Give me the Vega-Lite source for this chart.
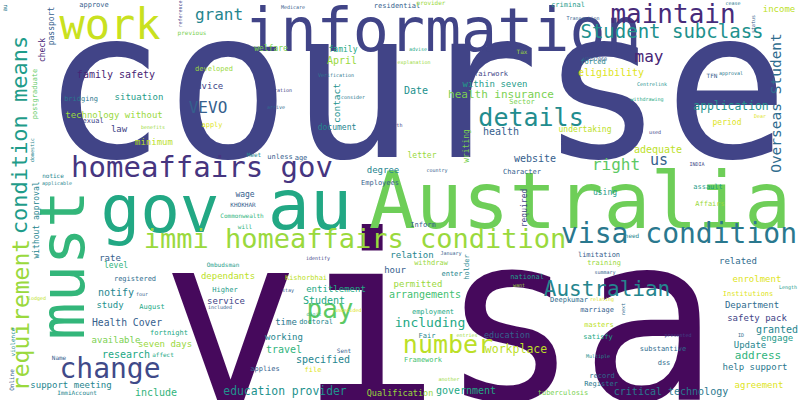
{
  "$schema": "https://vega.github.io/schema/vega-lite/v6.json",
  "autosize": {"type": "none"},
  "padding": 0,
  "width": 800,
  "height": 400,
  "background": "white",
  "config": {"view": {"stroke": null}},
  "data": {
    "values": [
      {"w": "course", "x": 415, "y": 95, "s": 207, "a": 0, "c": 0.2},
      {"w": "visa", "x": 440, "y": 330, "s": 232, "a": 0, "c": 0.02},
      {"w": "information", "x": 443, "y": 33, "s": 60, "a": 0, "c": 0.2},
      {"w": "work", "x": 110, "y": 26, "s": 42, "a": 0, "c": 0.92},
      {"w": "gov", "x": 160, "y": 212, "s": 66, "a": 0, "c": 0.6},
      {"w": "au", "x": 310, "y": 208, "s": 70, "a": 0, "c": 0.6},
      {"w": "Australia", "x": 580, "y": 205, "s": 78, "a": 0, "c": 0.78},
      {"w": "must", "x": 65, "y": 265, "s": 62, "a": -90, "c": 0.66},
      {"w": "homeaffairs gov", "x": 202, "y": 168, "s": 29, "a": 0, "c": 0.15},
      {"w": "immi homeaffairs condition", "x": 355, "y": 240, "s": 27, "a": 0, "c": 0.85},
      {"w": "condition means", "x": 20, "y": 135, "s": 22, "a": -90, "c": 0.55},
      {"w": "requirement", "x": 22, "y": 315, "s": 23, "a": -90, "c": 0.85},
      {"w": "grant", "x": 219, "y": 15, "s": 16, "a": 0, "c": 0.45},
      {"w": "maintain", "x": 673, "y": 15, "s": 26, "a": 0, "c": 0.12},
      {"w": "Student subclass", "x": 672, "y": 32, "s": 19, "a": 0, "c": 0.5},
      {"w": "details", "x": 531, "y": 118, "s": 25, "a": 0, "c": 0.48},
      {"w": "may", "x": 649, "y": 57, "s": 16, "a": 0, "c": 0.1},
      {"w": "Overseas Student", "x": 777, "y": 103, "s": 14.5, "a": -90, "c": 0.35},
      {"w": "application", "x": 731, "y": 107, "s": 11.4, "a": 0, "c": 0.5},
      {"w": "right", "x": 616, "y": 165, "s": 16, "a": 0, "c": 0.75},
      {"w": "us", "x": 659, "y": 160, "s": 15, "a": 0, "c": 0.3},
      {"w": "visa condition", "x": 679, "y": 235, "s": 28, "a": 0, "c": 0.4},
      {"w": "pay", "x": 330, "y": 310, "s": 26, "a": 0, "c": 0.75},
      {"w": "Australian", "x": 607, "y": 290, "s": 21, "a": 0, "c": 0.45},
      {"w": "number", "x": 448, "y": 345, "s": 25, "a": 0, "c": 0.9},
      {"w": "including", "x": 430, "y": 323, "s": 13, "a": 0, "c": 0.6},
      {"w": "workplace", "x": 516, "y": 350, "s": 11.5, "a": 0, "c": 0.9},
      {"w": "education", "x": 507, "y": 335, "s": 8.5, "a": 0, "c": 0.3},
      {"w": "change", "x": 110, "y": 370, "s": 28, "a": 0, "c": 0.22},
      {"w": "education provider", "x": 285, "y": 392, "s": 11.4, "a": 0, "c": 0.5},
      {"w": "critical technology", "x": 671, "y": 392, "s": 10, "a": 0, "c": 0.4},
      {"w": "Health Cover", "x": 127, "y": 323, "s": 9.7, "a": 0, "c": 0.3},
      {"w": "family safety", "x": 116, "y": 75, "s": 10, "a": 0, "c": 0.1},
      {"w": "VEVO", "x": 208, "y": 108, "s": 16, "a": 0, "c": 0.3},
      {"w": "contact", "x": 337, "y": 103, "s": 9.5, "a": -90, "c": 0.5},
      {"w": "approve", "x": 94, "y": 5, "s": 7, "a": 0, "c": 0.3},
      {"w": "passport", "x": 52, "y": 26, "s": 8, "a": -90, "c": 0.3},
      {"w": "check", "x": 43, "y": 50, "s": 8, "a": -90, "c": 0.1},
      {"w": "reference", "x": 180, "y": 14, "s": 5, "a": -90, "c": 0.2},
      {"w": "previous", "x": 192, "y": 33, "s": 6, "a": 0, "c": 0.8},
      {"w": "Medicare", "x": 293, "y": 7, "s": 5, "a": 0, "c": 0.3},
      {"w": "residential", "x": 397, "y": 6, "s": 7, "a": 0, "c": 0.3},
      {"w": "welfare", "x": 271, "y": 49, "s": 8, "a": 0, "c": 0.8},
      {"w": "family", "x": 343, "y": 50, "s": 8, "a": 0, "c": 0.6},
      {"w": "April", "x": 342, "y": 61, "s": 10, "a": 0, "c": 0.85},
      {"w": "developed", "x": 214, "y": 69, "s": 7, "a": 0, "c": 0.85},
      {"w": "advice", "x": 207, "y": 86, "s": 9, "a": 0, "c": 0.2},
      {"w": "bridging", "x": 81, "y": 99, "s": 7, "a": 0, "c": 0.4},
      {"w": "situation", "x": 139, "y": 97, "s": 9, "a": 0, "c": 0.55},
      {"w": "postgraduate", "x": 35, "y": 94, "s": 7, "a": -90, "c": 0.75},
      {"w": "technology without", "x": 114, "y": 115, "s": 9, "a": 0, "c": 0.85},
      {"w": "sexual", "x": 91, "y": 121, "s": 7, "a": 0, "c": 0.2},
      {"w": "law", "x": 119, "y": 129, "s": 9, "a": 0, "c": 0.2},
      {"w": "apply", "x": 212, "y": 125, "s": 7, "a": 0, "c": 0.95},
      {"w": "benefits", "x": 153, "y": 127, "s": 5, "a": 0, "c": 0.85},
      {"w": "minimum", "x": 154, "y": 142, "s": 9, "a": 0, "c": 0.9},
      {"w": "document", "x": 337, "y": 128, "s": 8, "a": 0, "c": 0.45},
      {"w": "domestic", "x": 32, "y": 150, "s": 5, "a": -90, "c": 0.45},
      {"w": "Meet", "x": 254, "y": 155, "s": 6, "a": 0, "c": 0.45},
      {"w": "unless", "x": 280, "y": 157, "s": 7, "a": 0, "c": 0.3},
      {"w": "age", "x": 301, "y": 158, "s": 7, "a": 0, "c": 0.3},
      {"w": "degree", "x": 383, "y": 170, "s": 9, "a": 0, "c": 0.45},
      {"w": "notice", "x": 53, "y": 176, "s": 6, "a": 0, "c": 0.45},
      {"w": "applicable", "x": 57, "y": 183, "s": 5, "a": 0, "c": 0.45},
      {"w": "without approval", "x": 37, "y": 220, "s": 8, "a": -90, "c": 0.45},
      {"w": "Employees", "x": 380, "y": 183, "s": 7, "a": 0, "c": 0.3},
      {"w": "wage", "x": 245, "y": 195, "s": 8, "a": 0, "c": 0.3},
      {"w": "KHOKHAR", "x": 243, "y": 205, "s": 6, "a": 0, "c": 0.3},
      {"w": "Commonwealth", "x": 242, "y": 216, "s": 6, "a": 0, "c": 0.65},
      {"w": "will", "x": 245, "y": 227, "s": 6, "a": 0, "c": 0.65},
      {"w": "Verification", "x": 336, "y": 75, "s": 5, "a": 0, "c": 0.4},
      {"w": "duration", "x": 280, "y": 90, "s": 5, "a": 0, "c": 0.2},
      {"w": "consider", "x": 353, "y": 97, "s": 5, "a": 0, "c": 0.4},
      {"w": "arrive", "x": 276, "y": 107, "s": 5, "a": 0, "c": 0.35},
      {"w": "birth", "x": 395, "y": 125, "s": 5, "a": 0, "c": 0.2},
      {"w": "au", "x": 5, "y": 8, "s": 6, "a": -90, "c": 0.4},
      {"w": "provider", "x": 431, "y": 3, "s": 6, "a": 0, "c": 0.85},
      {"w": "criminal", "x": 568, "y": 5, "s": 7, "a": 0, "c": 0.55},
      {"w": "cease", "x": 733, "y": 3, "s": 5, "a": 0, "c": 0.4},
      {"w": "income", "x": 779, "y": 9, "s": 9, "a": 0, "c": 0.9},
      {"w": "Transaction", "x": 583, "y": 18, "s": 5, "a": 0, "c": 0.3},
      {"w": "status", "x": 753, "y": 24, "s": 5, "a": -90, "c": 0.3},
      {"w": "advise", "x": 418, "y": 49, "s": 5, "a": 0, "c": 0.6},
      {"w": "explanation", "x": 414, "y": 62, "s": 5, "a": 0, "c": 0.85},
      {"w": "Tax", "x": 522, "y": 52, "s": 6, "a": 0, "c": 0.85},
      {"w": "V3297060", "x": 595, "y": 59, "s": 5, "a": 0, "c": 0.3},
      {"w": "forced", "x": 593, "y": 62, "s": 7, "a": 0, "c": 0.45},
      {"w": "eligibility", "x": 611, "y": 73, "s": 10, "a": 0, "c": 0.95},
      {"w": "fairwork", "x": 491, "y": 74, "s": 7, "a": 0, "c": 0.2},
      {"w": "within seven", "x": 495, "y": 84, "s": 9, "a": 0, "c": 0.55},
      {"w": "TFN", "x": 712, "y": 76, "s": 6, "a": 0, "c": 0.3},
      {"w": "approval", "x": 731, "y": 73, "s": 5, "a": 0, "c": 0.4},
      {"w": "Centrelink", "x": 652, "y": 84, "s": 5, "a": 0, "c": 0.5},
      {"w": "Date", "x": 416, "y": 91, "s": 10, "a": 0, "c": 0.5},
      {"w": "health insurance", "x": 501, "y": 95, "s": 11, "a": 0, "c": 0.8},
      {"w": "Sector", "x": 522, "y": 102, "s": 7, "a": 0, "c": 0.8},
      {"w": "withdrawing", "x": 647, "y": 99, "s": 5, "a": 0, "c": 0.6},
      {"w": "Dear", "x": 760, "y": 116, "s": 5, "a": 0, "c": 0.95},
      {"w": "period", "x": 727, "y": 123, "s": 8, "a": 0, "c": 0.95},
      {"w": "undertaking", "x": 585, "y": 130, "s": 8, "a": 0, "c": 0.9},
      {"w": "health", "x": 501, "y": 132, "s": 10, "a": 0, "c": 0.3},
      {"w": "writing", "x": 467, "y": 146, "s": 8, "a": -90, "c": 0.8},
      {"w": "used", "x": 655, "y": 132, "s": 5, "a": 0, "c": 0.2},
      {"w": "adequate", "x": 658, "y": 150, "s": 10, "a": 0, "c": 0.9},
      {"w": "website", "x": 535, "y": 159, "s": 10, "a": 0, "c": 0.3},
      {"w": "letter", "x": 422, "y": 156, "s": 8, "a": 0, "c": 0.85},
      {"w": "country", "x": 437, "y": 170, "s": 5, "a": 0, "c": 0.3},
      {"w": "Character", "x": 522, "y": 172, "s": 7, "a": 0, "c": 0.3},
      {"w": "INDIA", "x": 697, "y": 164, "s": 5, "a": 0, "c": 0.2},
      {"w": "assault", "x": 708, "y": 187, "s": 7, "a": 0, "c": 0.55},
      {"w": "required", "x": 525, "y": 208, "s": 8, "a": -90, "c": 0.2},
      {"w": "using", "x": 605, "y": 193, "s": 8, "a": 0, "c": 0.55},
      {"w": "Affairs", "x": 710, "y": 204, "s": 7, "a": 0, "c": 0.85},
      {"w": "Inform", "x": 423, "y": 225, "s": 7, "a": 0, "c": 0.3},
      {"w": "need", "x": 632, "y": 236, "s": 6, "a": 0, "c": 0.45},
      {"w": "rate", "x": 110, "y": 258, "s": 9, "a": 0, "c": 0.3},
      {"w": "level", "x": 116, "y": 266, "s": 8, "a": 0, "c": 0.65},
      {"w": "registered", "x": 135, "y": 279, "s": 7, "a": 0, "c": 0.35},
      {"w": "notify", "x": 116, "y": 293, "s": 10, "a": 0, "c": 0.45},
      {"w": "four", "x": 142, "y": 294, "s": 5, "a": 0, "c": 0.3},
      {"w": "lodged", "x": 37, "y": 298, "s": 5, "a": 0, "c": 0.9},
      {"w": "study", "x": 110, "y": 305, "s": 9, "a": 0, "c": 0.5},
      {"w": "August", "x": 152, "y": 307, "s": 7, "a": 0, "c": 0.6},
      {"w": "available", "x": 116, "y": 340, "s": 9, "a": 0, "c": 0.8},
      {"w": "fortnight", "x": 169, "y": 333, "s": 7, "a": 0, "c": 0.6},
      {"w": "seven days", "x": 165, "y": 344, "s": 9, "a": 0, "c": 0.85},
      {"w": "research", "x": 126, "y": 355, "s": 10, "a": 0, "c": 0.6},
      {"w": "affect", "x": 163, "y": 355, "s": 6, "a": 0, "c": 0.6},
      {"w": "Name", "x": 59, "y": 358, "s": 6, "a": 0, "c": 0.3},
      {"w": "support meeting", "x": 71, "y": 385, "s": 9, "a": 0, "c": 0.45},
      {"w": "ImmiAccount", "x": 77, "y": 393, "s": 6, "a": 0, "c": 0.45},
      {"w": "include", "x": 156, "y": 393, "s": 10, "a": 0, "c": 0.65},
      {"w": "violence", "x": 13, "y": 342, "s": 6, "a": -90, "c": 0.5},
      {"w": "Online", "x": 12, "y": 380, "s": 6, "a": -90, "c": 0.3},
      {"w": "Ombudsman", "x": 223, "y": 265, "s": 6, "a": 0, "c": 0.55},
      {"w": "dependants", "x": 228, "y": 276, "s": 9, "a": 0, "c": 0.9},
      {"w": "Higher", "x": 225, "y": 290, "s": 7, "a": 0, "c": 0.55},
      {"w": "service", "x": 226, "y": 301, "s": 9, "a": 0, "c": 0.2},
      {"w": "included", "x": 220, "y": 307, "s": 5, "a": 0, "c": 0.3},
      {"w": "Kishorbhai", "x": 306, "y": 278, "s": 7, "a": 0, "c": 0.9},
      {"w": "identify", "x": 318, "y": 258, "s": 5, "a": 0, "c": 0.2},
      {"w": "stay", "x": 288, "y": 290, "s": 5, "a": 0, "c": 0.3},
      {"w": "entitlement", "x": 336, "y": 289, "s": 9, "a": 0, "c": 0.6},
      {"w": "Student", "x": 324, "y": 301, "s": 10, "a": 0, "c": 0.6},
      {"w": "digit", "x": 314, "y": 314, "s": 5, "a": 0, "c": 0.65},
      {"w": "undecided", "x": 348, "y": 310, "s": 5, "a": 0, "c": 0.95},
      {"w": "time", "x": 286, "y": 322, "s": 9, "a": 0, "c": 0.4},
      {"w": "doctoral", "x": 316, "y": 322, "s": 7, "a": 0, "c": 0.45},
      {"w": "working", "x": 284, "y": 337, "s": 9, "a": 0, "c": 0.45},
      {"w": "travel", "x": 284, "y": 350, "s": 10, "a": 0, "c": 0.65},
      {"w": "Sent", "x": 344, "y": 351, "s": 6, "a": 0, "c": 0.3},
      {"w": "specified", "x": 323, "y": 360, "s": 10, "a": 0, "c": 0.45},
      {"w": "applies", "x": 265, "y": 369, "s": 7, "a": 0, "c": 0.3},
      {"w": "file", "x": 313, "y": 370, "s": 7, "a": 0, "c": 0.95},
      {"w": "Qualification", "x": 400, "y": 393, "s": 8.5, "a": 0, "c": 0.85},
      {"w": "relation", "x": 412, "y": 255, "s": 9, "a": 0, "c": 0.45},
      {"w": "January", "x": 451, "y": 253, "s": 5, "a": 0, "c": 0.3},
      {"w": "withdraw", "x": 431, "y": 263, "s": 7, "a": 0, "c": 0.85},
      {"w": "holder", "x": 467, "y": 267, "s": 7, "a": -90, "c": 0.45},
      {"w": "hour", "x": 395, "y": 270, "s": 9, "a": 0, "c": 0.3},
      {"w": "enter", "x": 452, "y": 274, "s": 7, "a": 0, "c": 0.45},
      {"w": "permitted", "x": 418, "y": 284, "s": 9, "a": 0, "c": 0.85},
      {"w": "arrangements", "x": 425, "y": 295, "s": 10, "a": 0, "c": 0.7},
      {"w": "limitation", "x": 599, "y": 255, "s": 7, "a": 0, "c": 0.3},
      {"w": "training", "x": 604, "y": 263, "s": 7, "a": 0, "c": 0.85},
      {"w": "summary", "x": 605, "y": 272, "s": 5, "a": 0, "c": 0.3},
      {"w": "national", "x": 527, "y": 277, "s": 7, "a": 0, "c": 0.55},
      {"w": "want", "x": 519, "y": 285, "s": 5, "a": 0, "c": 0.85},
      {"w": "related", "x": 738, "y": 261, "s": 9, "a": 0, "c": 0.35},
      {"w": "enrolment", "x": 757, "y": 279, "s": 9, "a": 0, "c": 0.95},
      {"w": "Length", "x": 788, "y": 287, "s": 5, "a": 0, "c": 0.55},
      {"w": "Institutions", "x": 748, "y": 294, "s": 7, "a": 0, "c": 0.95},
      {"w": "Deepkumar", "x": 569, "y": 300, "s": 7, "a": 0, "c": 0.35},
      {"w": "relating", "x": 602, "y": 299, "s": 5, "a": 0, "c": 0.95},
      {"w": "next", "x": 623, "y": 309, "s": 5, "a": -90, "c": 0.35},
      {"w": "Department", "x": 752, "y": 305, "s": 9, "a": 0, "c": 0.35},
      {"w": "marriage", "x": 597, "y": 310, "s": 7, "a": 0, "c": 0.3},
      {"w": "employment", "x": 433, "y": 312, "s": 7, "a": 0, "c": 0.6},
      {"w": "safety pack", "x": 757, "y": 318, "s": 9, "a": 0, "c": 0.2},
      {"w": "masters", "x": 599, "y": 325, "s": 7, "a": 0, "c": 0.9},
      {"w": "entries", "x": 467, "y": 335, "s": 5, "a": 0, "c": 0.85},
      {"w": "presented", "x": 678, "y": 335, "s": 5, "a": 0, "c": 0.2},
      {"w": "satisfy", "x": 598, "y": 337, "s": 7, "a": 0, "c": 0.6},
      {"w": "Fair", "x": 427, "y": 336, "s": 7, "a": 0, "c": 0.45},
      {"w": "granted", "x": 777, "y": 330, "s": 10, "a": 0, "c": 0.45},
      {"w": "ID", "x": 741, "y": 335, "s": 5, "a": 0, "c": 0.35},
      {"w": "engage", "x": 777, "y": 338, "s": 9, "a": 0, "c": 0.55},
      {"w": "Update", "x": 750, "y": 345, "s": 9, "a": 0, "c": 0.45},
      {"w": "substantive", "x": 663, "y": 349, "s": 7, "a": 0, "c": 0.35},
      {"w": "Multiple", "x": 598, "y": 356, "s": 5, "a": 0, "c": 0.5},
      {"w": "address", "x": 758, "y": 356, "s": 11, "a": 0, "c": 0.65},
      {"w": "Framework", "x": 423, "y": 360, "s": 7, "a": 0, "c": 0.7},
      {"w": "dss", "x": 664, "y": 363, "s": 7, "a": 0, "c": 0.35},
      {"w": "help support", "x": 755, "y": 367, "s": 9, "a": 0, "c": 0.4},
      {"w": "another", "x": 449, "y": 379, "s": 5, "a": 0, "c": 0.85},
      {"w": "record", "x": 602, "y": 376, "s": 7, "a": 0, "c": 0.35},
      {"w": "Register", "x": 601, "y": 384, "s": 7, "a": 0, "c": 0.4},
      {"w": "agreement", "x": 759, "y": 385, "s": 9, "a": 0, "c": 0.95},
      {"w": "government", "x": 466, "y": 391, "s": 10, "a": 0, "c": 0.6},
      {"w": "tuberculosis", "x": 563, "y": 393, "s": 7, "a": 0, "c": 0.8}
    ]
  },
  "mark": {"type": "text", "font": "DejaVu Sans Mono", "align": "center", "baseline": "middle"},
  "encoding": {
    "x": {"field": "x", "type": "quantitative", "scale": {"domain": [0, 800]}, "axis": null},
    "y": {"field": "y", "type": "quantitative", "scale": {"domain": [400, 0]}, "axis": null},
    "text": {"field": "w", "type": "nominal"},
    "size": {"field": "s", "type": "quantitative", "scale": null},
    "angle": {"field": "a", "type": "quantitative", "scale": null},
    "color": {"field": "c", "type": "quantitative", "scale": {"scheme": "viridis", "domain": [0, 1]}, "legend": null}
  }
}
